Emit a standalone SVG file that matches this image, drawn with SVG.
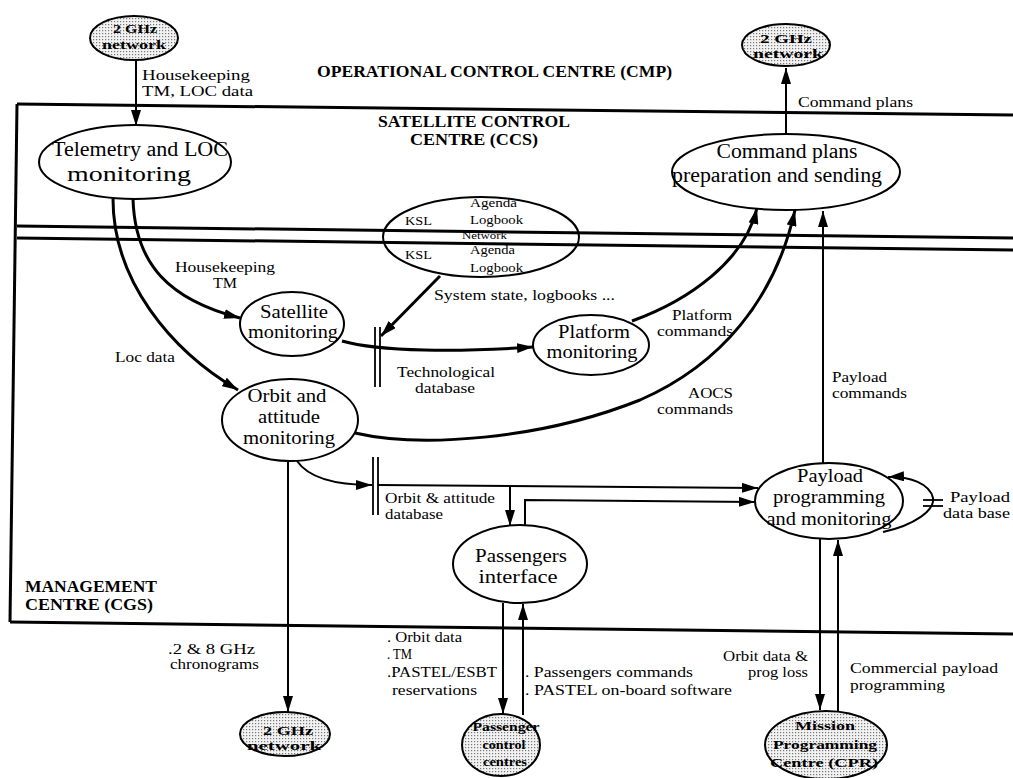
<svg xmlns="http://www.w3.org/2000/svg" width="1013" height="778" viewBox="0 0 1013 778" font-family="'Liberation Serif', 'Times New Roman', serif">
<defs>
<pattern id="dots" width="3" height="3" patternUnits="userSpaceOnUse"><rect width="3" height="3" fill="#f2f2f2"/><rect width="1.2" height="1.2" fill="#777"/></pattern>
<marker id="ah" markerWidth="16" markerHeight="10" refX="16" refY="5" orient="auto" markerUnits="userSpaceOnUse"><path d="M0,0 L16,5 L0,10 z" fill="#000"/></marker>
</defs>
<style>
text{font-family:"Liberation Serif","Times New Roman",serif;fill:#000}
.n{font-size:18px}
.m{font-size:20px}
.l{font-size:14px}
.t{font-size:16px;font-weight:bold}
.g{font-size:13px;font-weight:bold}
.k{font-size:13px}
.w{font-size:10px}
.e{fill:#fff;stroke:#000;stroke-width:2}
.d{fill:url(#dots);stroke:#000;stroke-width:2}
.b{fill:none;stroke:#000;stroke-width:3}
.c{fill:none;stroke:#000;stroke-width:3}
.s{fill:none;stroke:#000;stroke-width:2}
.bar{stroke:#000;stroke-width:1.8}
</style>
<g id="regions">
<line class="b" x1="17" y1="104" x2="1013" y2="115"/>
<line class="b" x1="17" y1="104" x2="10" y2="622"/>
<line class="b" x1="10" y1="622" x2="1013" y2="634"/>
<line class="b" x1="17" y1="226" x2="1013" y2="238"/>
<line class="b" x1="17" y1="238" x2="1013" y2="250"/>
<text class="t" x="317" y="77" textLength="355" lengthAdjust="spacingAndGlyphs">OPERATIONAL CONTROL CENTRE (CMP)</text>
<text class="t" x="474" y="127" text-anchor="middle" textLength="192" lengthAdjust="spacingAndGlyphs">SATELLITE CONTROL</text>
<text class="t" x="474" y="145" text-anchor="middle" textLength="128" lengthAdjust="spacingAndGlyphs">CENTRE (CCS)</text>
<text class="t" x="25" y="592" textLength="132" lengthAdjust="spacingAndGlyphs">MANAGEMENT</text>
<text class="t" x="25" y="610" textLength="128" lengthAdjust="spacingAndGlyphs">CENTRE (CGS)</text>
</g>
<g id="connectors">
<line class="s" x1="136" y1="60" x2="136" y2="126" marker-end="url(#ah)"/>
<line class="s" x1="786" y1="133" x2="786" y2="68" marker-end="url(#ah)"/>
<path class="c" d="M133,199 C135,265 170,300 240,318" marker-end="url(#ah)"/>
<path class="c" d="M113,199 C113,280 170,350 238,390" marker-end="url(#ah)"/>
<line class="c" x1="440" y1="276" x2="381" y2="336" marker-end="url(#ah)"/>
<path class="c" d="M342,341 C380,352 460,352 533,347" marker-end="url(#ah)"/>
<path class="c" d="M632,321 C690,300 745,260 757,208" marker-end="url(#ah)"/>
<path class="c" d="M355,433 C420,448 540,440 640,400 C720,365 775,300 795,210" marker-end="url(#ah)"/>
<line class="s" x1="823" y1="464" x2="823" y2="211" marker-end="url(#ah)"/>
<path class="s" d="M297,461 C310,480 340,485 372,485" marker-end="url(#ah)"/>
<line class="s" x1="378" y1="485" x2="758" y2="488" marker-end="url(#ah)"/>
<line class="s" x1="510" y1="486" x2="510" y2="526" marker-end="url(#ah)"/>
<path class="s" d="M525,526 L525,500 L755,502" marker-end="url(#ah)"/>
<line class="s" x1="288" y1="462" x2="288" y2="712" marker-end="url(#ah)"/>
<line class="s" x1="503" y1="603" x2="503" y2="714" marker-end="url(#ah)"/>
<line class="s" x1="523" y1="715" x2="523" y2="604" marker-end="url(#ah)"/>
<line class="s" x1="820" y1="539" x2="820" y2="710" marker-end="url(#ah)"/>
<line class="s" x1="838" y1="711" x2="838" y2="540" marker-end="url(#ah)"/>
<path class="s" d="M883,532 C915,525 935,510 933,498 C930,484 910,476 888,477" marker-end="url(#ah)"/>
<line class="bar" x1="375" y1="327" x2="375" y2="387"/>
<line class="bar" x1="380" y1="327" x2="380" y2="387"/>
<line class="bar" x1="373" y1="457" x2="373" y2="515"/>
<line class="bar" x1="378" y1="457" x2="378" y2="515"/>
<line class="bar" x1="923" y1="500" x2="943" y2="500"/>
<line class="bar" x1="923" y1="506" x2="943" y2="506"/>
<text class="l" x="142" y="80" textLength="108" lengthAdjust="spacingAndGlyphs">Housekeeping</text>
<text class="l" x="142" y="96" textLength="111" lengthAdjust="spacingAndGlyphs">TM, LOC data</text>
<text class="l" x="798" y="107" textLength="115" lengthAdjust="spacingAndGlyphs">Command plans</text>
<text class="l" x="175" y="272" textLength="100" lengthAdjust="spacingAndGlyphs">Housekeeping</text>
<text class="l" x="213" y="288" textLength="24" lengthAdjust="spacingAndGlyphs">TM</text>
<text class="l" x="115" y="362" textLength="60" lengthAdjust="spacingAndGlyphs">Loc data</text>
<text class="l" x="434" y="300" textLength="181" lengthAdjust="spacingAndGlyphs">System state, logbooks ...</text>
<text class="l" x="397" y="377" textLength="98" lengthAdjust="spacingAndGlyphs">Technological</text>
<text class="l" x="415" y="393" textLength="60" lengthAdjust="spacingAndGlyphs">database</text>
<text class="l" x="672" y="320" textLength="60" lengthAdjust="spacingAndGlyphs">Platform</text>
<text class="l" x="657" y="336" textLength="76" lengthAdjust="spacingAndGlyphs">commands</text>
<text class="l" x="688" y="398" textLength="45" lengthAdjust="spacingAndGlyphs">AOCS</text>
<text class="l" x="657" y="414" textLength="76" lengthAdjust="spacingAndGlyphs">commands</text>
<text class="l" x="832" y="382" textLength="55" lengthAdjust="spacingAndGlyphs">Payload</text>
<text class="l" x="832" y="398" textLength="75" lengthAdjust="spacingAndGlyphs">commands</text>
<text class="l" x="385" y="503" textLength="110" lengthAdjust="spacingAndGlyphs">Orbit &amp; attitude</text>
<text class="l" x="385" y="519" textLength="58" lengthAdjust="spacingAndGlyphs">database</text>
<text class="l" x="950" y="502" textLength="60" lengthAdjust="spacingAndGlyphs">Payload</text>
<text class="l" x="943" y="518" textLength="67" lengthAdjust="spacingAndGlyphs">data base</text>
<text class="l" x="168" y="654" textLength="87" lengthAdjust="spacingAndGlyphs">.2 &amp; 8 GHz</text>
<text class="l" x="170" y="669" textLength="89" lengthAdjust="spacingAndGlyphs">chronograms</text>
<text class="l" x="387" y="642" textLength="75" lengthAdjust="spacingAndGlyphs">. Orbit data</text>
<text class="l" x="387" y="659" textLength="25" lengthAdjust="spacingAndGlyphs">. TM</text>
<text class="l" x="387" y="677" textLength="110" lengthAdjust="spacingAndGlyphs">.PASTEL/ESBT</text>
<text class="l" x="392" y="695" textLength="85" lengthAdjust="spacingAndGlyphs">reservations</text>
<text class="l" x="525" y="677" textLength="168" lengthAdjust="spacingAndGlyphs">. Passengers commands</text>
<text class="l" x="525" y="695" textLength="207" lengthAdjust="spacingAndGlyphs">. PASTEL on-board software</text>
<text class="l" x="808" y="661" text-anchor="end" textLength="85" lengthAdjust="spacingAndGlyphs">Orbit data &amp;</text>
<text class="l" x="808" y="677" text-anchor="end" textLength="60" lengthAdjust="spacingAndGlyphs">prog loss</text>
<text class="l" x="850" y="673" textLength="148" lengthAdjust="spacingAndGlyphs">Commercial payload</text>
<text class="l" x="850" y="690" textLength="95" lengthAdjust="spacingAndGlyphs">programming</text>
</g>
<g id="net-top-left">
<ellipse class="d" cx="134" cy="38" rx="44" ry="22"/>
<text class="g" x="135" y="33" text-anchor="middle" textLength="44" lengthAdjust="spacingAndGlyphs">2 GHz</text>
<text class="g" x="134" y="49" text-anchor="middle" textLength="64" lengthAdjust="spacingAndGlyphs">network</text>
</g>
<g id="net-top-right">
<ellipse class="d" cx="786" cy="45" rx="44" ry="21"/>
<text class="g" x="786" y="43" text-anchor="middle" textLength="52" lengthAdjust="spacingAndGlyphs">2 GHz</text>
<text class="g" x="788" y="58" text-anchor="middle" textLength="70" lengthAdjust="spacingAndGlyphs">network</text>
</g>
<g id="telemetry">
<ellipse class="e" cx="135" cy="162" rx="96" ry="37"/>
<text class="m" x="140" y="156" text-anchor="middle" textLength="176" lengthAdjust="spacingAndGlyphs">Telemetry and LOC</text>
<text class="m" x="129" y="181" text-anchor="middle" textLength="124" lengthAdjust="spacingAndGlyphs">monitoring</text>
</g>
<g id="command-plans">
<ellipse class="e" cx="786" cy="172" rx="114" ry="38"/>
<text class="m" x="787" y="158" text-anchor="middle" textLength="141" lengthAdjust="spacingAndGlyphs">Command plans</text>
<text class="m" x="777" y="182" text-anchor="middle" textLength="210" lengthAdjust="spacingAndGlyphs">preparation and sending</text>
</g>
<g id="ksl-network">
<ellipse cx="481" cy="237" rx="98" ry="40" fill="none" stroke="#000" stroke-width="2"/>
<text class="k" x="470" y="207" textLength="47" lengthAdjust="spacingAndGlyphs">Agenda</text>
<text class="k" x="405" y="225" textLength="27" lengthAdjust="spacingAndGlyphs">KSL</text>
<text class="k" x="470" y="224" textLength="53" lengthAdjust="spacingAndGlyphs">Logbook</text>
<text class="w" x="462" y="239" textLength="45" lengthAdjust="spacingAndGlyphs">Network</text>
<text class="k" x="405" y="259" textLength="27" lengthAdjust="spacingAndGlyphs">KSL</text>
<text class="k" x="470" y="254" textLength="45" lengthAdjust="spacingAndGlyphs">Agenda</text>
<text class="k" x="470" y="272" textLength="53" lengthAdjust="spacingAndGlyphs">Logbook</text>
</g>
<g id="satellite">
<ellipse class="e" cx="292" cy="324" rx="52" ry="32"/>
<text class="n" x="294" y="318" text-anchor="middle" textLength="68" lengthAdjust="spacingAndGlyphs">Satellite</text>
<text class="n" x="293" y="338" text-anchor="middle" textLength="90" lengthAdjust="spacingAndGlyphs">monitoring</text>
</g>
<g id="platform">
<ellipse class="e" cx="591" cy="345" rx="58" ry="30"/>
<text class="n" x="594" y="338" text-anchor="middle" textLength="72" lengthAdjust="spacingAndGlyphs">Platform</text>
<text class="n" x="592" y="358" text-anchor="middle" textLength="91" lengthAdjust="spacingAndGlyphs">monitoring</text>
</g>
<g id="orbit">
<ellipse class="e" cx="290" cy="420" rx="68" ry="41"/>
<text class="n" x="287" y="402" text-anchor="middle" textLength="79" lengthAdjust="spacingAndGlyphs">Orbit and</text>
<text class="n" x="289" y="423" text-anchor="middle" textLength="62" lengthAdjust="spacingAndGlyphs">attitude</text>
<text class="n" x="289" y="444" text-anchor="middle" textLength="92" lengthAdjust="spacingAndGlyphs">monitoring</text>
</g>
<g id="payload">
<ellipse class="e" cx="829" cy="501" rx="74" ry="38"/>
<text class="n" x="830" y="482" text-anchor="middle" textLength="66" lengthAdjust="spacingAndGlyphs">Payload</text>
<text class="n" x="829" y="503" text-anchor="middle" textLength="112" lengthAdjust="spacingAndGlyphs">programming</text>
<text class="n" x="829" y="525" text-anchor="middle" textLength="125" lengthAdjust="spacingAndGlyphs">and monitoring</text>
</g>
<g id="passengers">
<ellipse class="e" cx="520" cy="564" rx="67" ry="39"/>
<text class="n" x="521" y="562" text-anchor="middle" textLength="92" lengthAdjust="spacingAndGlyphs">Passengers</text>
<text class="n" x="518" y="583" text-anchor="middle" textLength="79" lengthAdjust="spacingAndGlyphs">interface</text>
</g>
<g id="net-bottom">
<ellipse class="d" cx="285" cy="734" rx="45" ry="22"/>
<text class="g" x="288" y="735" text-anchor="middle" textLength="50" lengthAdjust="spacingAndGlyphs">2 GHz</text>
<text class="g" x="284" y="750" text-anchor="middle" textLength="74" lengthAdjust="spacingAndGlyphs">network</text>
</g>
<g id="passenger-centres">
<ellipse class="d" cx="501" cy="745" rx="39" ry="31"/>
<text class="g" x="506" y="731" text-anchor="middle" textLength="67" lengthAdjust="spacingAndGlyphs">Passenger</text>
<text class="g" x="504" y="749" text-anchor="middle" textLength="43" lengthAdjust="spacingAndGlyphs">control</text>
<text class="g" x="505" y="766" text-anchor="middle" textLength="44" lengthAdjust="spacingAndGlyphs">centres</text>
</g>
<g id="mission-centre">
<ellipse class="d" cx="826" cy="745" rx="61" ry="34"/>
<text class="g" x="825" y="730" text-anchor="middle" textLength="60" lengthAdjust="spacingAndGlyphs">Mission</text>
<text class="g" x="825" y="749" text-anchor="middle" textLength="104" lengthAdjust="spacingAndGlyphs">Programming</text>
<text class="g" x="824" y="767" text-anchor="middle" textLength="108" lengthAdjust="spacingAndGlyphs">Centre (CPR)</text>
</g>
</svg>
